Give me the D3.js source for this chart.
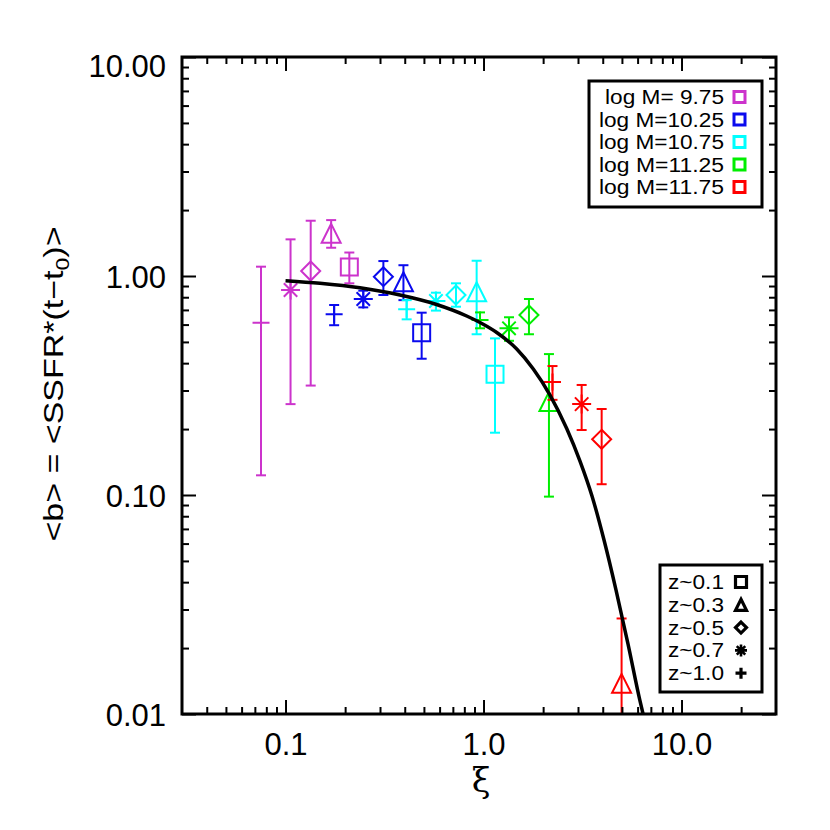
<!DOCTYPE html>
<html>
<head>
<meta charset="utf-8">
<script src="https://cdn.jsdelivr.net/npm/d3@7"></script>
<style>
  html, body { margin: 0; padding: 0; background: #fff; }
  svg { display: block; font-family: "Liberation Sans", Arial, Helvetica, sans-serif; }
</style>
</head>
<body>
<svg id="chart" width="830" height="830"></svg>
<script>
// ---------------- DATA ----------------
const massLabels = ["log M= 9.75", "log M=10.25", "log M=10.75", "log M=11.25", "log M=11.75"];
const massColors = ["#cc33cc", "#0a0aee", "#00ffff", "#00ee00", "#ff0000"];
const zLabels = ["z~0.1", "z~0.3", "z~0.5", "z~0.7", "z~1.0"];
const zSymbols = ["square", "triangle", "diamond", "asterisk", "plus"];

// each point: mass bin index, redshift bin index, xi, <b>, lower, upper
const pointMass = [0,0,0,0,0, 1,1,1,1,1, 2,2,2,2,2, 3,3,3,3, 4,4,4,4];
const pointZ    = [0,1,2,3,4, 0,1,2,3,4, 0,1,2,3,4, 1,2,3,4, 1,2,3,4];
const pointXi   = [0.210, 0.170, 0.134, 0.106, 0.0752,
                   0.487, 0.394, 0.312, 0.247, 0.176,
                   1.143, 0.923, 0.726, 0.575, 0.409,
                   2.14, 1.696, 1.345, 0.96,
                   4.98, 3.95, 3.13, 2.23];
const pointB    = [1.10, 1.566, 1.054, 0.863, 0.612,
                   0.551, 0.942, 0.993, 0.785, 0.668,
                   0.356, 0.848, 0.819, 0.769, 0.705,
                   0.267, 0.664, 0.577, 0.63,
                   0.0138, 0.1796, 0.26, 0.328];
const pointLo   = [0.926, 1.346, 0.316, 0.26, 0.123,
                   0.419, 0.776, 0.819, 0.719, 0.596,
                   0.1925, 0.542, 0.724, 0.695, 0.634,
                   0.0983, 0.542, 0.506, 0.577,
                   0.01, 0.112, 0.198, 0.272];
const pointHi   = [1.28, 1.80, 1.788, 1.47, 1.103,
                   0.68, 1.12, 1.17, 0.857, 0.737,
                   0.519, 1.174, 0.926, 0.839, 0.776,
                   0.44, 0.785, 0.648, 0.682,
                   0.0273, 0.247, 0.318, 0.388];

// model curve
const curveXi = [0.100, 0.1493, 0.2377, 0.3786, 0.5686, 0.8222, 0.9597, 1.1655, 1.4713, 1.7838,
                 2.1663, 2.6305, 3.070, 3.530, 4.060, 4.669, 5.365, 6.170, 6.4115];
const curveB  = [0.9518, 0.9261, 0.8833, 0.8188, 0.7451, 0.6567, 0.6131, 0.5521, 0.4642, 0.3761,
                 0.2861, 0.2012, 0.1429, 0.0990, 0.0623, 0.0368, 0.0209, 0.01147, 0.0099];

const xMajorTicks = [0.1, 1, 10];
const xTickLabels = ["0.1", "1.0", "10.0"];
const yMajorTicks = [0.01, 0.1, 1, 10];
const yTickLabels = ["0.01", "0.10", "1.00", "10.00"];

// ---------------- LAYOUT ----------------
const L = 182, R = 776, T = 57, B = 714;
const svg = d3.select("#chart");
const x = d3.scaleLog().domain([0.03, 30]).range([L, R]);
const y = d3.scaleLog().domain([0.01, 10]).range([B, T]);

function minors(lo, hi) {
  const out = [];
  for (let e = Math.floor(Math.log10(lo)); e <= Math.ceil(Math.log10(hi)); e++) {
    for (let m = 2; m <= 9; m++) {
      const v = m * Math.pow(10, e);
      if (v > lo * 1.0001 && v < hi * 0.9999) out.push(v);
    }
  }
  return out;
}
const xMinor = minors(0.03, 30);
const yMinor = minors(0.01, 10);

svg.append("defs").append("clipPath").attr("id", "clip")
  .append("rect").attr("x", L).attr("y", T - 1).attr("width", R - L).attr("height", B - T + 2);

// ---------------- SYMBOLS ----------------
function symbolPath(type, r) {
  switch (type) {
    case "square": return `M${-r},${-r}H${r}V${r}H${-r}Z`;
    case "triangle": return `M0,${-r}L${r},${r}L${-r},${r}Z`;
    case "diamond": return `M0,${-r}L${r},0L0,${r}L${-r},0Z`;
    case "asterisk": {
      const d = r * Math.SQRT1_2;
      return `M${-r},0H${r}M0,${-r}V${r}M${-d},${-d}L${d},${d}M${-d},${d}L${d},${-d}`;
    }
    case "plus": return `M${-r},0H${r}M0,${-r}V${r}`;
  }
}
const symR = { square: 8.5, triangle: 9.5, diamond: 9.5, asterisk: 9.5, plus: 8.5 };

// ---------------- DATA MARKS ----------------
const pts = pointXi.map((v, i) => ({
  xi: v, b: pointB[i], lo: pointLo[i], hi: pointHi[i],
  color: massColors[pointMass[i]], sym: zSymbols[pointZ[i]]
}));

const gData = svg.append("g").attr("clip-path", "url(#clip)");
const cap = 5;
const eb = gData.selectAll("g.pt").data(pts).join("g").attr("class", "pt")
  .attr("stroke", d => d.color).attr("fill", "none").attr("stroke-width", 2);
eb.append("line")
  .attr("x1", d => x(d.xi)).attr("x2", d => x(d.xi))
  .attr("y1", d => y(d.lo)).attr("y2", d => y(d.hi));
eb.append("line")
  .attr("x1", d => x(d.xi) - cap).attr("x2", d => x(d.xi) + cap)
  .attr("y1", d => y(d.hi)).attr("y2", d => y(d.hi));
eb.append("line")
  .attr("x1", d => x(d.xi) - cap).attr("x2", d => x(d.xi) + cap)
  .attr("y1", d => y(d.lo)).attr("y2", d => y(d.lo));
eb.append("path")
  .attr("transform", d => `translate(${x(d.xi)},${y(d.b)})`)
  .attr("d", d => symbolPath(d.sym, symR[d.sym]));

// model curve
const curveData = curveXi.map((v, i) => [v, curveB[i]]);
gData.append("path")
  .datum(curveData)
  .attr("fill", "none").attr("stroke", "#000").attr("stroke-width", 3.5)
  .attr("d", d3.line().x(d => x(d[0])).y(d => y(d[1])).curve(d3.curveMonotoneX));

// ---------------- AXES ----------------
const axisFont = 31;
function styleAxis(g) {
  g.select(".domain").remove();
  g.selectAll(".tick line").attr("stroke", "#000").attr("stroke-width", 2);
  g.selectAll("text").attr("fill", "#000").attr("font-size", axisFont)
    .attr("font-family", "Liberation Sans, Arial, sans-serif");
}
// bottom
svg.append("g").attr("transform", `translate(0,${B})`)
  .call(d3.axisBottom(x).tickValues(xMajorTicks).tickSizeInner(-14).tickSizeOuter(0).tickPadding(19)
    .tickFormat((d, i) => xTickLabels[i])).call(styleAxis);
svg.append("g").attr("transform", `translate(0,${B})`)
  .call(d3.axisBottom(x).tickValues(xMinor).tickSizeInner(-7).tickSizeOuter(0).tickFormat("")).call(styleAxis);
// top
svg.append("g").attr("transform", `translate(0,${T})`)
  .call(d3.axisTop(x).tickValues(xMajorTicks).tickSizeInner(-14).tickSizeOuter(0).tickFormat("")).call(styleAxis);
svg.append("g").attr("transform", `translate(0,${T})`)
  .call(d3.axisTop(x).tickValues(xMinor).tickSizeInner(-7).tickSizeOuter(0).tickFormat("")).call(styleAxis);
// left
const yl = svg.append("g").attr("transform", `translate(${L},0)`)
  .call(d3.axisLeft(y).tickValues(yMajorTicks).tickSizeInner(-14).tickSizeOuter(0).tickPadding(16)
    .tickFormat((d, i) => yTickLabels[i])).call(styleAxis);
yl.selectAll(".tick text").attr("dy", d => d === 10 ? "0.64em" : "0.36em");
svg.append("g").attr("transform", `translate(${L},0)`)
  .call(d3.axisLeft(y).tickValues(yMinor).tickSizeInner(-7).tickSizeOuter(0).tickFormat("")).call(styleAxis);
// right
svg.append("g").attr("transform", `translate(${R},0)`)
  .call(d3.axisRight(y).tickValues(yMajorTicks).tickSizeInner(-14).tickSizeOuter(0).tickFormat("")).call(styleAxis);
svg.append("g").attr("transform", `translate(${R},0)`)
  .call(d3.axisRight(y).tickValues(yMinor).tickSizeInner(-7).tickSizeOuter(0).tickFormat("")).call(styleAxis);

// frame
svg.append("rect").attr("x", L).attr("y", T).attr("width", R - L).attr("height", B - T)
  .attr("fill", "none").attr("stroke", "#000").attr("stroke-width", 3);

// axis titles
svg.append("text").attr("x", (L + R) / 2 + 2).attr("y", 792).attr("text-anchor", "middle")
  .attr("font-size", 34).attr("font-family", "DejaVu Serif, serif").text("ξ");

const yt = svg.append("text")
  .attr("transform", "translate(63,384) rotate(-90)")
  .attr("text-anchor", "middle").attr("font-size", 28)
  .attr("textLength", 315).attr("lengthAdjust", "spacingAndGlyphs");
yt.append("tspan").text("<b> = <SSFR*(t−t");
yt.append("tspan").attr("font-size", 19).attr("dy", 6).text("0");
yt.append("tspan").attr("dy", -6).text(")>");

// ---------------- LEGENDS ----------------
// mass legend
const lg1 = svg.append("g");
lg1.append("rect").attr("x", 589).attr("y", 81).attr("width", 173).attr("height", 126)
  .attr("fill", "#fff").attr("stroke", "#000").attr("stroke-width", 3);
massLabels.forEach((lab, i) => {
  const cy = 97 + i * 22.5;
  lg1.append("text").attr("x", 724).attr("y", cy).attr("dy", "0.36em")
    .attr("text-anchor", "end").attr("font-size", 19.5).style("white-space", "pre")
    .attr("textLength", i === 0 ? 119 : 125).attr("lengthAdjust", "spacingAndGlyphs").text(lab);
  lg1.append("rect").attr("x", 734).attr("y", cy - 5.5).attr("width", 11).attr("height", 11)
    .attr("fill", "none").attr("stroke", massColors[i]).attr("stroke-width", 3);
});

// redshift legend
const lg2 = svg.append("g");
lg2.append("rect").attr("x", 660).attr("y", 565).attr("width", 102).attr("height", 127)
  .attr("fill", "#fff").attr("stroke", "#000").attr("stroke-width", 3);
zLabels.forEach((lab, i) => {
  const cy = 582 + i * 22.8;
  lg2.append("text").attr("x", 668).attr("y", cy).attr("dy", "0.36em")
    .attr("font-size", 19.5).attr("textLength", 56).attr("lengthAdjust", "spacingAndGlyphs").text(lab);
  const s = zSymbols[i];
  lg2.append("path").attr("transform", `translate(741,${cy})`)
    .attr("d", symbolPath(s, s === "asterisk" ? 6 : 5.5))
    .attr("fill", "none").attr("stroke", "#000").attr("stroke-width", s === "asterisk" ? 2.6 : 3.2);
});
</script>
</body>
</html>
